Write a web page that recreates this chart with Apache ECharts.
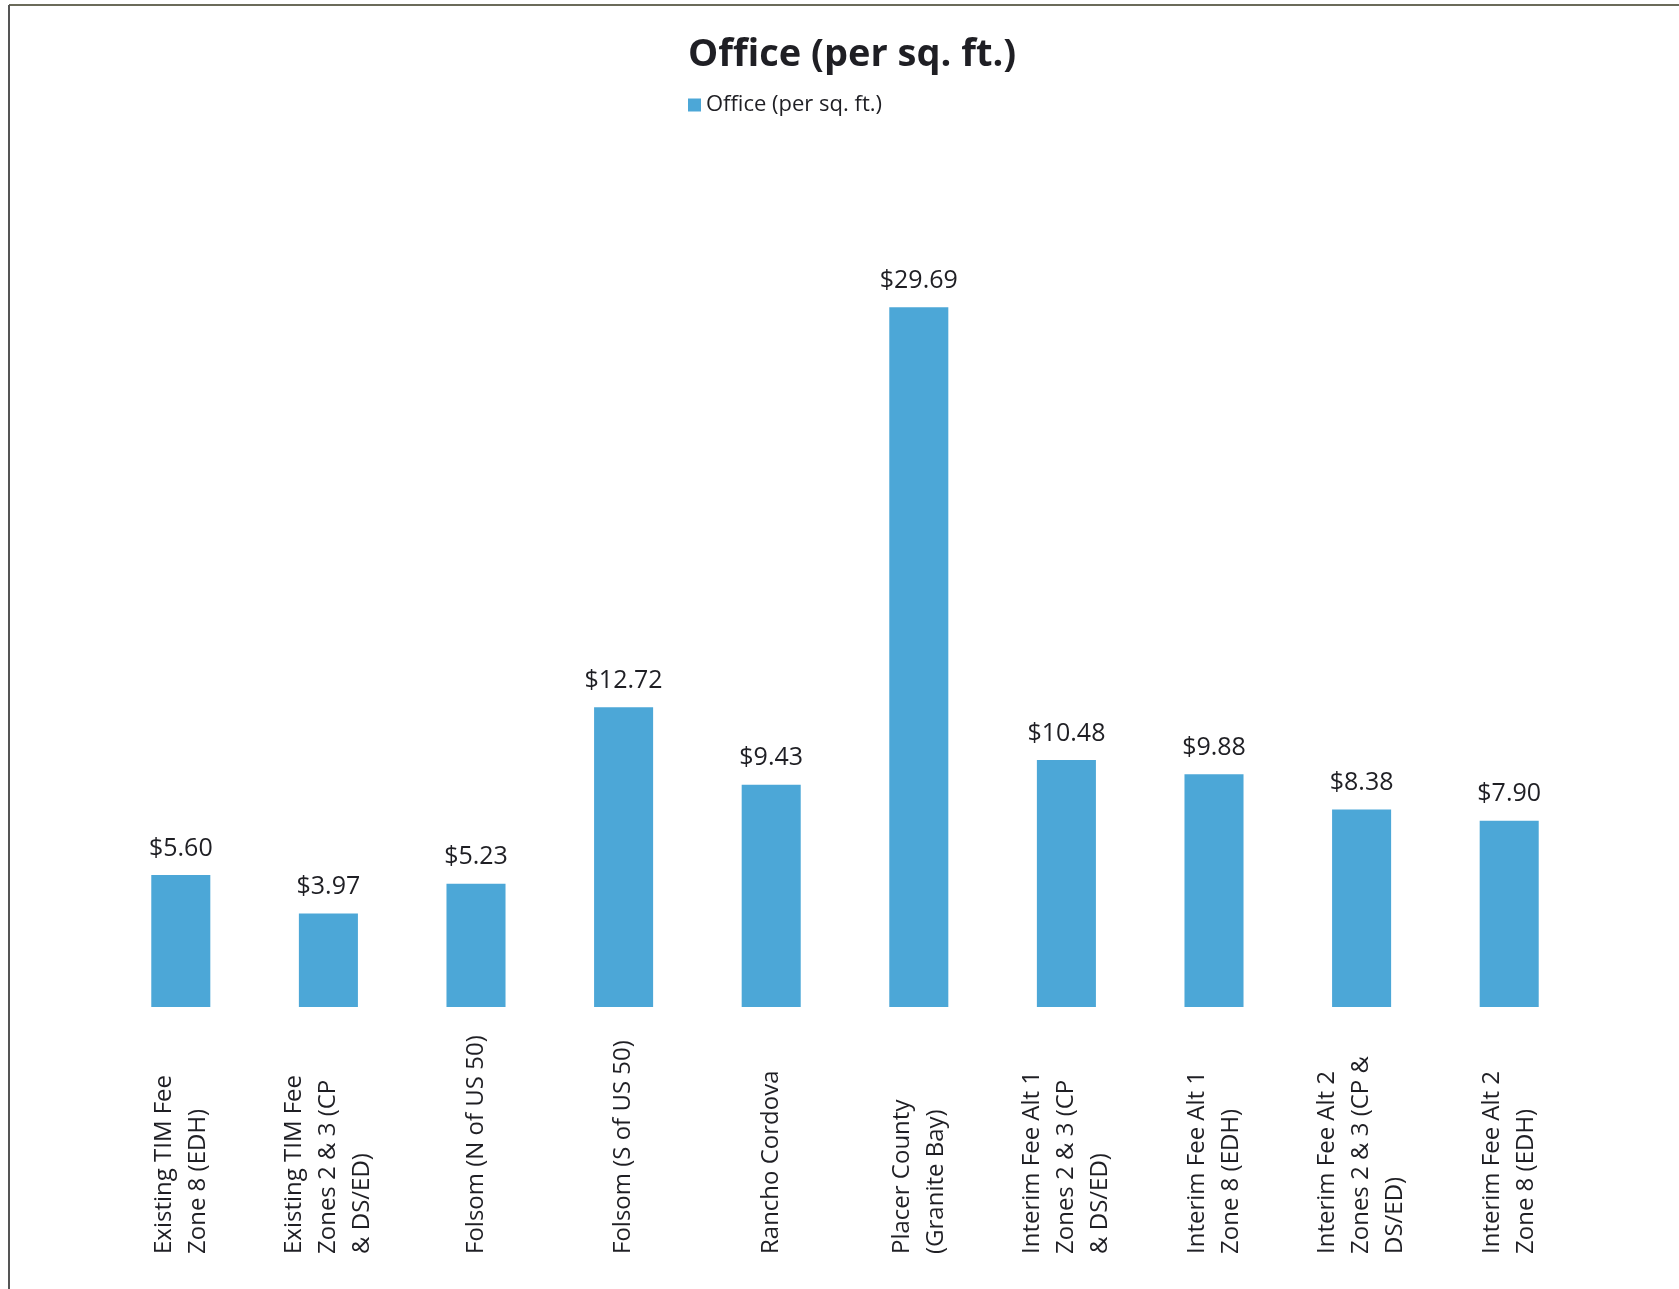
<!DOCTYPE html>
<html>
<head>
    <meta charset="UTF-8">
    <title>Office (per sq. ft.)</title>
    <script src="https://cdn.jsdelivr.net/npm/echarts@6/dist/echarts.min.js"></script>
    <style type="text/css">
        html, body, #main {
            height: 100%;
            width: 100%;
            margin: 0;
            padding: 0;
            background: #fff;
        }
    </style>
</head>
<body>
<div id="main"></div>
<script type="text/javascript">
    // categories (line breaks as in the original)
    var categories = [
        'Existing TIM Fee\nZone 8 (EDH)',
        'Existing TIM Fee\nZones 2 & 3 (CP\n& DS/ED)',
        'Folsom (N of US 50)',
        'Folsom (S of US 50)',
        'Rancho Cordova',
        'Placer County\n(Granite Bay)',
        'Interim Fee Alt 1\nZones 2 & 3 (CP\n& DS/ED)',
        'Interim Fee Alt 1\nZone 8 (EDH)',
        'Interim Fee Alt 2\nZones 2 & 3 (CP &\nDS/ED)',
        'Interim Fee Alt 2\nZone 8 (EDH)'
    ];
    var officeFee = [5.60, 3.97, 5.23, 12.72, 9.43, 29.69, 10.48, 9.88, 8.38, 7.90];
    var seriesName = 'Office (per sq. ft.)';

    var font = '"Open Sans", "Noto Sans", sans-serif';
    var chart = echarts.init(document.getElementById('main'));
    chart.setOption({
        animation: false,
        title: {
            text: 'Office (per sq. ft.)',
            left: 683,
            top: 31,
            textStyle: {fontFamily: font, fontSize: 38, fontWeight: 'bold', color: '#1f1f24'}
        },
        legend: {
            data: [seriesName],
            left: 683,
            top: 89,
            itemWidth: 13,
            itemHeight: 13,
            itemGap: 6,
            icon: 'rect',
            textStyle: {fontFamily: font, fontSize: 22, color: '#1f1f24'}
        },
        grid: {left: 107, right: 96, top: 300, bottom: 282},
        xAxis: {
            type: 'category',
            data: categories,
            axisLine: {show: false},
            axisTick: {show: false},
            axisLabel: {
                interval: 0,
                rotate: 90,
                align: 'left',
                margin: 247,
                lineHeight: 34,
                fontFamily: font,
                fontSize: 24,
                color: '#1f1f24'
            }
        },
        yAxis: {
            type: 'value',
            min: 0,
            max: 30,
            show: false,
            splitLine: {show: false}
        },
        series: [{
            name: seriesName,
            type: 'bar',
            data: officeFee,
            barWidth: '40%',
            itemStyle: {color: '#4ca7d7'},
            label: {
                show: true,
                position: 'top',
                distance: 14,
                formatter: function (p) { return '$' + p.value.toFixed(2); },
                fontFamily: font,
                fontSize: 25,
                color: '#1f1f24'
            }
        }],
        graphic: [
            {type: 'line', shape: {x1: 9, y1: 5, x2: 1679, y2: 5}, style: {stroke: '#6b6b5a', lineWidth: 2}},
            {type: 'line', shape: {x1: 9, y1: 5, x2: 9, y2: 1289}, style: {stroke: '#555555', lineWidth: 2}}
        ]
    });
</script>
</body>
</html>
